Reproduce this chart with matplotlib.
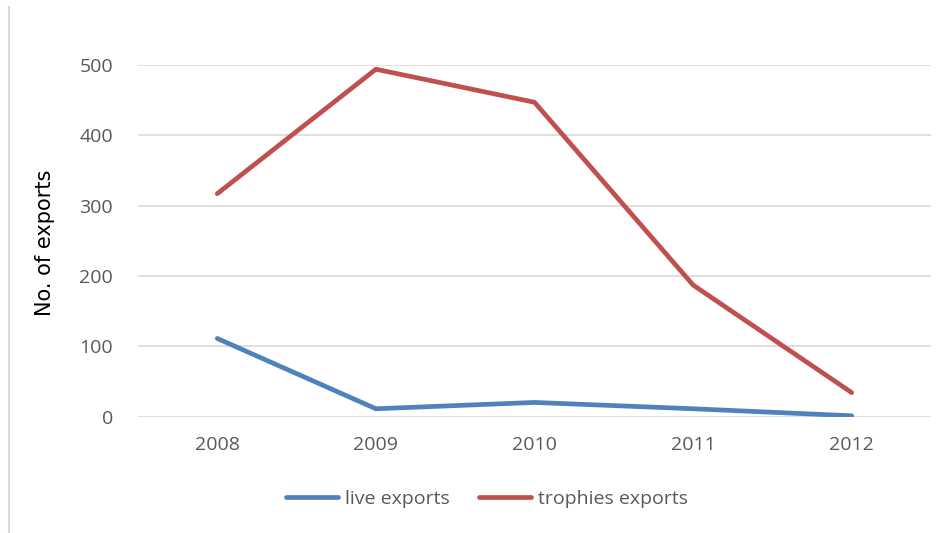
import matplotlib
matplotlib.use("Agg")
import matplotlib.pyplot as plt
from matplotlib.lines import Line2D

years = ["2008", "2009", "2010", "2011", "2012"]
live_exports = [111, 11, 20, 11, 1]
trophies_exports = [317, 494, 447, 187, 34]
y_ticks = [0, 100, 200, 300, 400, 500]

BLUE = "#4F81BD"
RED = "#C0504D"
GRID = "#D9D9D9"
TEXT = "#595959"

plt.rcParams["font.family"] = ["Open Sans", "DejaVu Sans"]

W, H = 950, 533
fig = plt.figure(figsize=(W / 100, H / 100), dpi=100)
ax = fig.add_axes([138 / W, (H - 416.5) / H, (931 - 138) / W, (416.5 - 65) / H])

x = list(range(len(years)))
ax.plot(x, live_exports, color=BLUE, lw=3.4, solid_capstyle="round",
        solid_joinstyle="round", label="live exports", zorder=3)
ax.plot(x, trophies_exports, color=RED, lw=3.4, solid_capstyle="round",
        solid_joinstyle="round", label="trophies exports", zorder=3)

ax.set_xlim(-0.5, len(years) - 0.5)
ax.set_ylim(0, 500)
ax.set_xticks(x)
ax.set_xticklabels(years)
ax.set_yticks(y_ticks)
ax.set_yticklabels([str(v) for v in y_ticks])
ax.yaxis.grid(True, color=GRID, lw=1.2)
ax.set_axisbelow(True)
for s in ax.spines.values():
    s.set_visible(False)
ax.tick_params(axis="both", length=0, labelsize=14, labelcolor=TEXT)
ax.tick_params(axis="y", pad=18)
ax.tick_params(axis="x", pad=14)

fig.text(45 / W, (H - 243) / H, "No. of exports", rotation=90,
         ha="center", va="center", fontsize=15, color="#000000",
         family="DejaVu Sans")

handles = [Line2D([], [], color=BLUE, lw=3.4, solid_capstyle="round"),
           Line2D([], [], color=RED, lw=3.4, solid_capstyle="round")]
fig.legend(handles, ["live exports", "trophies exports"],
           loc="center", bbox_to_anchor=(487 / W, (H - 499) / H),
           ncol=2, frameon=False, fontsize=14, labelcolor=TEXT,
           handlelength=2.7, handletextpad=0.35, columnspacing=1.5)

# left edge of the chart frame
fig.add_artist(Line2D([8.5 / W, 8.5 / W], [0, (H - 7) / H],
                      transform=fig.transFigure, color=GRID, lw=1.5))

fig.savefig("out.png", dpi=100)
